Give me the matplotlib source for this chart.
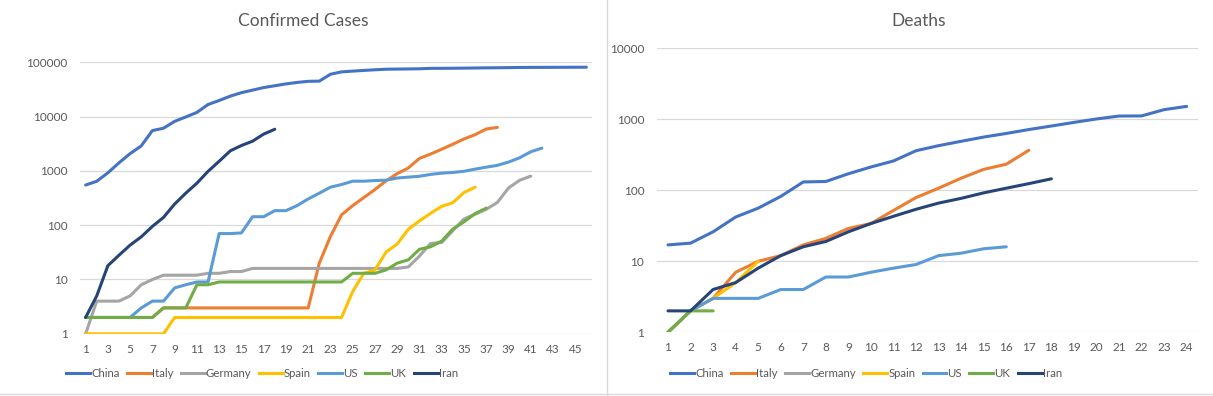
import matplotlib
matplotlib.use("Agg")
import matplotlib.pyplot as plt
from matplotlib.ticker import FixedLocator, FuncFormatter, NullLocator
from matplotlib.lines import Line2D

plt.rcParams['font.family'] = ['Lato', 'DejaVu Sans']

countries = ["China", "Italy", "Germany", "Spain", "US", "UK", "Iran"]
colors = ["#4472C4", "#ED7D31", "#A5A5A5", "#FFC000", "#5B9BD5", "#70AD47", "#264478"]

# confirmed cases, day 1 = first reported case of each country
cases_china = [548, 643, 920, 1406, 2075, 2877, 5509, 6087, 8141, 9802, 11891, 16630,
               19716, 23707, 27440, 30587, 34110, 36814, 39829, 42354, 44386, 44759,
               59895, 66358, 68413, 70513, 72434, 74211, 74619, 75077, 75550, 77001,
               77022, 77241, 77754, 78166, 78600, 78928, 79356, 79932, 80136, 80261,
               80386, 80537, 80690, 80770]
cases_italy = [2, 2, 2, 2, 2, 2, 2, 3, 3, 3, 3, 3, 3, 3, 3, 3, 3, 3, 3, 3, 3,
               20, 62, 155, 229, 322, 453, 655, 888, 1128, 1694, 2036, 2502, 3089,
               3858, 4636, 5883, 6300]
cases_germany = [1, 4, 4, 4, 5, 8, 10, 12, 12, 12, 12, 13, 13, 14, 14, 16, 16, 16, 16,
                 16, 16, 16, 16, 16, 16, 16, 16, 16, 16, 17, 27, 46, 48, 79, 130, 159,
                 196, 262, 482, 670, 799]
cases_spain = [1, 1, 1, 1, 1, 1, 1, 1, 2, 2, 2, 2, 2, 2, 2, 2, 2, 2, 2, 2, 2, 2, 2, 2,
               6, 13, 15, 32, 45, 84, 120, 165, 222, 259, 400, 500]
cases_us = [2, 2, 2, 2, 2, 3, 4, 4, 7, 8, 9, 9, 70, 70, 72, 143, 143, 185, 185, 229,
            304, 388, 500, 560, 645, 645, 663, 673, 738, 766, 794, 860, 906, 934, 981,
            1075, 1168, 1262, 1449, 1738, 2243, 2617]
cases_uk = [2, 2, 2, 2, 2, 2, 2, 3, 3, 3, 8, 8, 9, 9, 9, 9, 9, 9, 9, 9, 9, 9, 9, 9,
            13, 13, 13, 15, 20, 23, 36, 40, 51, 85, 115, 163, 206]
cases_iran = [2, 5, 18, 28, 43, 61, 95, 139, 245, 388, 593, 978, 1501, 2336, 2922,
              3513, 4747, 5823]

# deaths, day 1 = first reported death
deaths_china = [17, 18, 26, 42, 56, 82, 131, 133, 171, 213, 259, 361, 425, 490, 562,
                632, 717, 804, 904, 1011, 1111, 1116, 1368, 1520]
deaths_italy = [1, 2, 3, 7, 10, 12, 17, 21, 29, 34, 52, 79, 107, 148, 197, 233, 366]
deaths_germany = []
deaths_spain = [1, 2, 3, 5, 10]
deaths_us = [1, 2, 3, 3, 3, 4, 4, 6, 6, 7, 8, 9, 12, 13, 15, 16]
deaths_uk = [1, 2, 2]
deaths_iran = [2, 2, 4, 5, 8, 12, 16, 19, 26, 34, 43, 54, 66, 77, 92, 107, 124, 145]

cases = [cases_china, cases_italy, cases_germany, cases_spain, cases_us, cases_uk, cases_iran]
deaths = [deaths_china, deaths_italy, deaths_germany, deaths_spain, deaths_us, deaths_uk, deaths_iran]

txt = "#595959"
grid = "#D9D9D9"

fig = plt.figure(figsize=(12.13, 3.96), dpi=100)


def draw(ax, series, ndays, ymax, step, title, title_x):
    for vals, c in zip(series, colors):
        ax.plot(range(1, len(vals) + 1), vals, color=c, lw=2.2, solid_capstyle='round',
                solid_joinstyle='round')
    ax.set_yscale('log')
    ax.set_ylim(1, ymax)
    ax.set_xlim(0.5, ndays + 0.5)
    decades = [10 ** i for i in range(0, len(str(ymax)))]
    ax.yaxis.set_major_locator(FixedLocator(decades))
    ax.yaxis.set_minor_locator(NullLocator())
    ax.yaxis.set_major_formatter(FuncFormatter(lambda v, p: "%d" % v))
    ax.set_xticks(range(1, ndays + 1, step))
    ax.grid(axis='y', color=grid, lw=0.9)
    ax.set_axisbelow(True)
    for s in ax.spines.values():
        s.set_visible(False)
    ax.tick_params(length=0, labelsize=8.5, colors=txt)
    ax.tick_params(axis='y', pad=9)
    ax.tick_params(axis='x', pad=7)
    fig.text(title_x, 0.948, title, ha='center', va='center', fontsize=12.5, color=txt)


ax1 = fig.add_axes([0.066, 0.157, 0.422, 0.686])
draw(ax1, cases, 46, 100000, 2, "Confirmed Cases", 0.25)

ax2 = fig.add_axes([0.5414, 0.161, 0.4462, 0.717])
draw(ax2, deaths, 24, 10000, 1, "Deaths", 0.757)

handles = [Line2D([], [], color=c, lw=2.2) for c in colors]
for cx in (0.216, 0.714):
    fig.legend(handles, countries, loc='center', bbox_to_anchor=(cx, 0.056), ncol=7,
               frameon=False, fontsize=8.2, labelcolor=txt, handlelength=2.1,
               handletextpad=0.1, columnspacing=0.65)

# panel borders
fig.add_artist(Line2D([607 / 1213, 607 / 1213], [0, 1], color=grid, lw=1))
fig.add_artist(Line2D([0, 1], [2 / 396, 2 / 396], color=grid, lw=1))

fig.savefig("out.png", dpi=100)
